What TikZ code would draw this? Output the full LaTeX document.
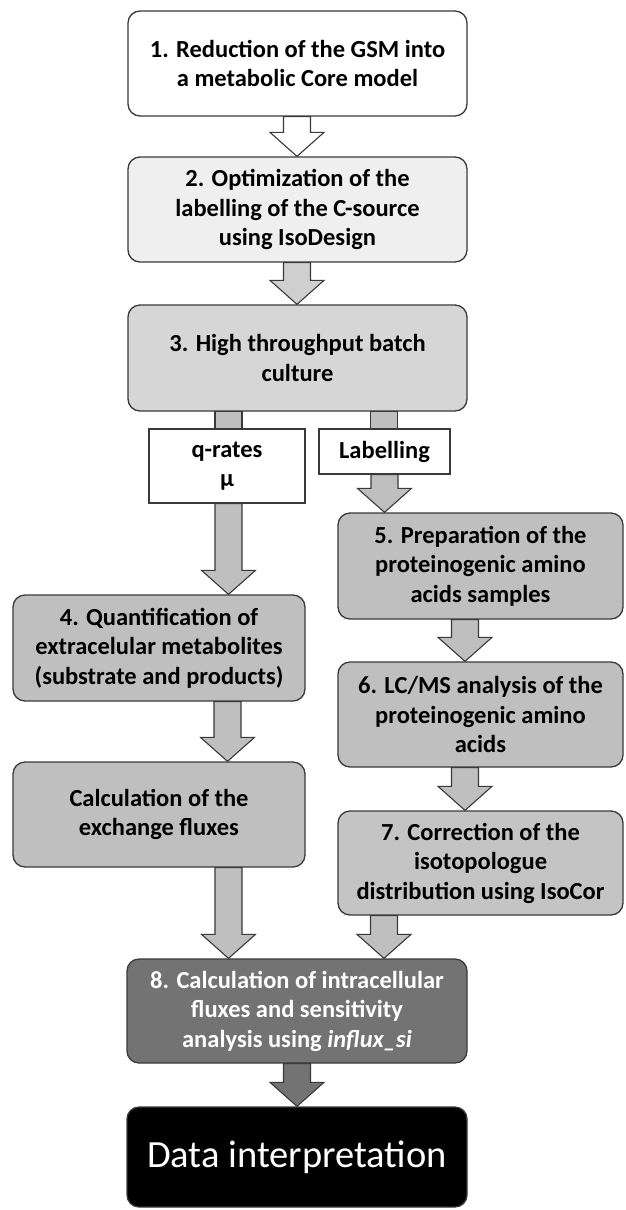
\documentclass[tikz,border=0pt]{standalone}
\usepackage{fontspec}
\setmainfont{Carlito}
\usetikzlibrary{calc}
\definecolor{bord}{HTML}{3A3A3A}
\definecolor{g1}{HTML}{EFEFEF}
\definecolor{g2}{HTML}{D6D6D6}
\definecolor{g3}{HTML}{BFBFBF}
\definecolor{g4}{HTML}{C4C4C4}
\definecolor{g8}{HTML}{737373}
\definecolor{ga2}{HTML}{CFCFCF}
\tikzset{
  flowbox/.style={draw=bord, line width=1.3pt, rounded corners=12pt, align=center,
    font=\fontsize{24.5}{29.5}\selectfont\bfseries, inner sep=0pt},
  labbox/.style={draw=bord, line width=1.2pt, fill=white, align=center,
    font=\fontsize{24.5}{29.5}\selectfont\bfseries, inner sep=0pt},
  arrowshape/.style={draw=bord, line width=1.1pt, line join=miter},
}
\newcommand\blockarrow[4]{% fill, x, from, to
  \path let \p1=(#3.south), \p2=(#4.north) in
    [arrowshape, fill=#1]
    (#2pt-13.5pt,\y1) -- (#2pt+13.5pt,\y1) -- (#2pt+13.5pt,\y2+24pt)
    -- (#2pt+27pt,\y2+24pt) -- (#2pt,\y2) -- (#2pt-27pt,\y2+24pt)
    -- (#2pt-13.5pt,\y2+24pt) -- cycle;
}
\newcommand\blockshaft[4]{% fill, x, from, to
  \path let \p1=(#3.south), \p2=(#4.north) in
    [arrowshape, fill=#1]
    (#2pt-13.5pt,\y1) -- (#2pt+13.5pt,\y1) -- (#2pt+13.5pt,\y2)
    -- (#2pt-13.5pt,\y2) -- cycle;
}
\begin{document}
\begin{tikzpicture}[x=1pt,y=-1pt]
\useasboundingbox[fill=white] (0,0) rectangle (625,1210);

\node[flowbox, fill=white, minimum width=339pt, minimum height=105pt] (b1) at (297.5,63.5)
  {1. Reduction of the GSM into\\a metabolic Core model};
\node[flowbox, fill=g1, minimum width=339pt, minimum height=105pt] (b2) at (297.5,209.5)
  {2. Optimization of the\\labelling of the C-source\\using IsoDesign};
\node[flowbox, fill=g2, minimum width=339pt, minimum height=106pt] (b3) at (297.5,358)
  {3. High throughput batch\\culture};
\node[labbox, minimum width=156pt, minimum height=74pt] (q) at (227,466)
  {q-rates\\μ};
\node[labbox, minimum width=131pt, minimum height=45pt] (lab) at (384.5,451.5)
  {Labelling};
\node[flowbox, fill=g3, minimum width=285pt, minimum height=106pt] (b5) at (480.5,566)
  {5. Preparation of the\\proteinogenic amino\\acids samples};
\node[flowbox, fill=g3, minimum width=292pt, minimum height=106pt] (b4) at (159,648)
  {4. Quantification of\\extracelular metabolites\\(substrate and products)};
\node[flowbox, fill=g3, minimum width=285pt, minimum height=105pt] (b6) at (480.5,714.5)
  {6. LC/MS analysis of the\\proteinogenic amino\\acids};
\node[flowbox, fill=g3, minimum width=292pt, minimum height=105pt] (calc) at (159,814.5)
  {Calculation of the\\exchange fluxes};
\node[flowbox, fill=g4, minimum width=285pt, minimum height=104pt] (b7) at (480.5,863)
  {7. Correction of the\\isotopologue\\distribution using IsoCor};
\node[flowbox, fill=g8, text=white, minimum width=340pt, minimum height=104pt] (b8) at (297,1011)
  {8. Calculation of intracellular\\fluxes and sensitivity\\analysis using \textit{influx\_si}};
\node[flowbox, fill=black, text=white, minimum width=340pt, minimum height=100pt,
  font=\fontsize{38.5}{46}\selectfont] (data) at (297,1157)
  {Data interpretation};

\blockarrow{white}{297}{b1}{b2}
\blockarrow{ga2}{297}{b2}{b3}
\blockshaft{g3}{228.5}{b3}{q}
\blockshaft{g3}{384}{b3}{lab}
\blockarrow{g3}{228.5}{q}{b4}
\blockarrow{g3}{384.5}{lab}{b5}
\blockarrow{g3}{465}{b5}{b6}
\blockarrow{g3}{227.5}{b4}{calc}
\blockarrow{g3}{465}{b6}{b7}
\blockarrow{g3}{228.5}{calc}{b8}
\blockarrow{g3}{384}{b7}{b8}
\blockarrow{g8}{297}{b8}{data}
\end{tikzpicture}
\end{document}
